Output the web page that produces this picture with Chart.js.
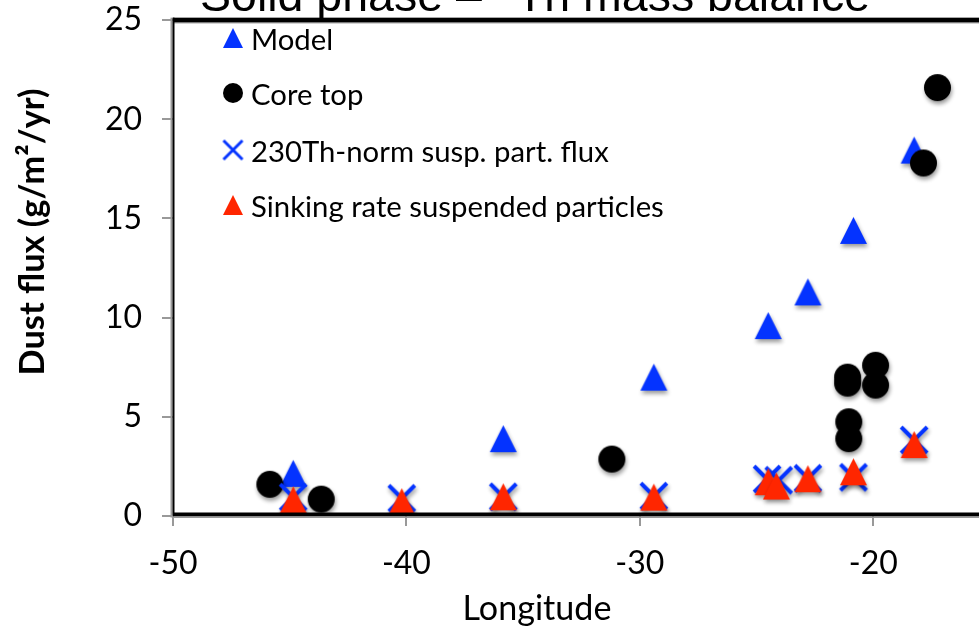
<!DOCTYPE html>
<html><head><meta charset="utf-8">
<script src="https://cdn.jsdelivr.net/npm/chart.js@4"></script>
<style>
html,body{margin:0;padding:0;background:#fff;overflow:hidden;width:979px;height:627px}
#wrap{position:absolute;left:0;top:0;width:995px;height:627px}
</style>
</head><body><div id="wrap"><canvas id="c" width="995" height="627"></canvas></div>
<script>
// ---- data ----
const xTickValues = [-50, -40, -30, -20];
const yTickValues = [0, 5, 10, 15, 20, 25];
const seriesNames = ['Model', 'Core top', '230Th-norm susp. part. flux', 'Sinking rate suspended particles'];

const modelLon  = [-44.85, -35.85, -29.4, -24.5, -22.8, -20.85, -18.25];
const modelFlux = [2.15, 3.9, 7.0, 9.6, 11.3, 14.4, 18.45];

const coreLon  = [-45.85, -43.65, -31.2, -21.1, -21.1, -21.05, -21.05, -19.9, -19.9, -17.85, -17.25];
const coreFlux = [1.6, 0.85, 2.87, 7.0, 6.7, 4.75, 3.9, 7.6, 6.6, 17.8, 21.6];

const thNormLon  = [-44.85, -40.2, -35.85, -29.4, -24.55, -24.05, -22.8, -20.85, -18.25];
const thNormFlux = [0.95, 0.89, 0.97, 1.0, 1.86, 1.8, 1.9, 1.95, 3.83];

const sinkLon  = [-44.85, -40.2, -35.85, -29.4, -24.5, -24.15, -22.8, -20.85, -18.25];
const sinkFlux = [0.82, 0.72, 0.97, 0.95, 1.73, 1.51, 1.88, 2.23, 3.6];

const titleMain = 'Solid phase \u2013';
const titleSup = '230';
const titleRest = 'Th mass balance';
const xTitle = 'Longitude';
const yTitle = 'Dust flux (g/m\u00B2/yr)';

// ---- styles ----
const BLUE = '#0433ff';
const RED = '#ff2600';
const BLACK = '#000000';
const FONT = 'Lato, "Open Sans", "DejaVu Sans", sans-serif';

function makeMarker(kind, color, size, shadow) {
  const pad = 8, S = size + pad * 2;
  const c = document.createElement('canvas');
  c.width = S; c.height = S;
  const g = c.getContext('2d');
  if (shadow) {
    g.shadowColor = 'rgba(0,0,0,0.4)';
    g.shadowBlur = 4; g.shadowOffsetX = 1; g.shadowOffsetY = 3;
  }
  const cx = S / 2, cy = S / 2, h = size / 2;
  g.fillStyle = color; g.strokeStyle = color;
  if (kind === 'tri') {
    g.beginPath(); g.moveTo(cx, cy - h); g.lineTo(cx + h, cy + h); g.lineTo(cx - h, cy + h); g.closePath(); g.fill();
  } else if (kind === 'circle') {
    g.beginPath(); g.arc(cx, cy, h, 0, Math.PI * 2); g.fill();
  } else if (kind === 'x') {
    g.lineWidth = Math.max(2.5, size * 0.15);
    g.beginPath(); g.moveTo(cx - h, cy - h); g.lineTo(cx + h, cy + h);
    g.moveTo(cx + h, cy - h); g.lineTo(cx - h, cy + h); g.stroke();
  }
  return c;
}

const mk = {
  model: makeMarker('tri', BLUE, 27, true),
  core: makeMarker('circle', BLACK, 27, true),
  thn: makeMarker('x', BLUE, 26, true),
  sink: makeMarker('tri', RED, 27, true)
};
const lg = [
  makeMarker('tri', BLUE, 20, false),
  makeMarker('circle', BLACK, 20, false),
  makeMarker('x', BLUE, 19, false),
  makeMarker('tri', RED, 20, false)
];

const toPts = (xs, ys) => xs.map((x, i) => ({ x: x, y: ys[i] }));

function fitFont(ctx, text, weight, targetW) {
  ctx.font = weight + ' 100px ' + FONT;
  const w = ctx.measureText(text).width;
  return 100 * targetW / w;
}

const decor = {
  id: 'decor',
  afterDraw(chart) {
    const { ctx, chartArea: a } = chart;
    ctx.save();
    // frame
    ctx.fillStyle = '#000';
    ctx.fillRect(a.left, a.top - 2.5, a.right - a.left, 5);
    ctx.fillStyle = '#bbb';
    ctx.fillRect(a.left, a.top + 2.5, a.right - a.left, 1);
    ctx.fillStyle = '#000';
    ctx.fillRect(a.left, a.bottom - 3.5, a.right - a.left, 4);
    ctx.fillStyle = '#999';
    ctx.fillRect(a.left, a.bottom + 0.5, a.right - a.left, 1.5);
    ctx.fillStyle = '#999';
    ctx.fillRect(a.left - 2.5, a.top - 2.5, 2, a.bottom - a.top + 4);
    ctx.fillStyle = '#000';
    ctx.fillRect(a.left - 0.5, a.top - 2.5, 2, a.bottom - a.top + 2);

    // title (cut off at the top of the picture)
    ctx.fillStyle = '#000';
    ctx.textBaseline = 'alphabetic';
    const tf = '46.5px "Liberation Sans", Arial, sans-serif';
    ctx.font = tf;
    ctx.textAlign = 'left';
    ctx.fillText(titleMain, 200, 11);
    ctx.textAlign = 'right';
    ctx.fillText(titleRest, 870, 11);
    const thStart = 870 - ctx.measureText(titleRest).width;
    ctx.font = '24px "Liberation Sans", Arial, sans-serif';
    ctx.fillText(titleSup, thStart, -10);

    // legend
    ctx.textAlign = 'left';
    const ly = [41, 96, 153, 208];
    const lsize = fitFont(ctx, seriesNames[3], 'normal', 413);
    ctx.font = lsize + 'px ' + FONT;
    ctx.textBaseline = 'middle';
    for (let i = 0; i < 4; i++) {
      const m = lg[i];
      ctx.drawImage(m, 233 - m.width / 2, ly[i] - 3 - m.height / 2);
      ctx.fillText(seriesNames[i], 251, ly[i]);
    }

    // axis titles
    const ys = fitFont(ctx, yTitle, 'bold', 287);
    ctx.font = 'bold ' + ys + 'px ' + FONT;
    ctx.textAlign = 'center';
    ctx.save();
    ctx.translate(33, 232);
    ctx.rotate(-Math.PI / 2);
    ctx.fillText(yTitle, 0, 0);
    ctx.restore();
    const xs = fitFont(ctx, xTitle, 'normal', 149);
    ctx.font = xs + 'px ' + FONT;
    ctx.fillText(xTitle, 537, 609);
    ctx.restore();
  }
};

new Chart(document.getElementById('c'), {
  type: 'scatter',
  data: {
    datasets: [
      { label: seriesNames[3], data: toPts(sinkLon, sinkFlux), pointStyle: mk.sink, showLine: false },
      { label: seriesNames[2], data: toPts(thNormLon, thNormFlux), pointStyle: mk.thn, showLine: false },
      { label: seriesNames[1], data: toPts(coreLon, coreFlux), pointStyle: mk.core, showLine: false },
      { label: seriesNames[0], data: toPts(modelLon, modelFlux), pointStyle: mk.model, showLine: false }
    ]
  },
  options: {
    responsive: false,
    animation: false,
    events: [],
    layout: { padding: { top: 1, right: 3, left: 0, bottom: 0 } },
    plugins: { legend: { display: false }, tooltip: { enabled: false }, title: { display: false } },
    scales: {
      x: {
        type: 'linear', min: -50, max: -15,
        afterBuildTicks: s => { s.ticks = xTickValues.map(v => ({ value: v })); },
        afterFit: s => { s.height = 111; },
        ticks: { font: { family: FONT, size: 32 }, color: '#000', padding: 18, maxRotation: 0 },
        grid: { drawOnChartArea: false, drawTicks: true, tickLength: 10, color: '#999', lineWidth: 2 },
        border: { display: false }
      },
      y: {
        type: 'linear', min: 0, max: 25,
        afterBuildTicks: s => { s.ticks = yTickValues.map(v => ({ value: v })); },
        afterFit: s => { s.width = 173; },
        ticks: { font: { family: FONT, size: 32, lineHeight: 0.01 }, color: '#000', padding: 20 },
        grid: { drawOnChartArea: false, drawTicks: true, tickLength: 11, color: '#999', lineWidth: 2 },
        border: { display: false }
      }
    }
  },
  plugins: [decor]
});
</script>
</body></html>
